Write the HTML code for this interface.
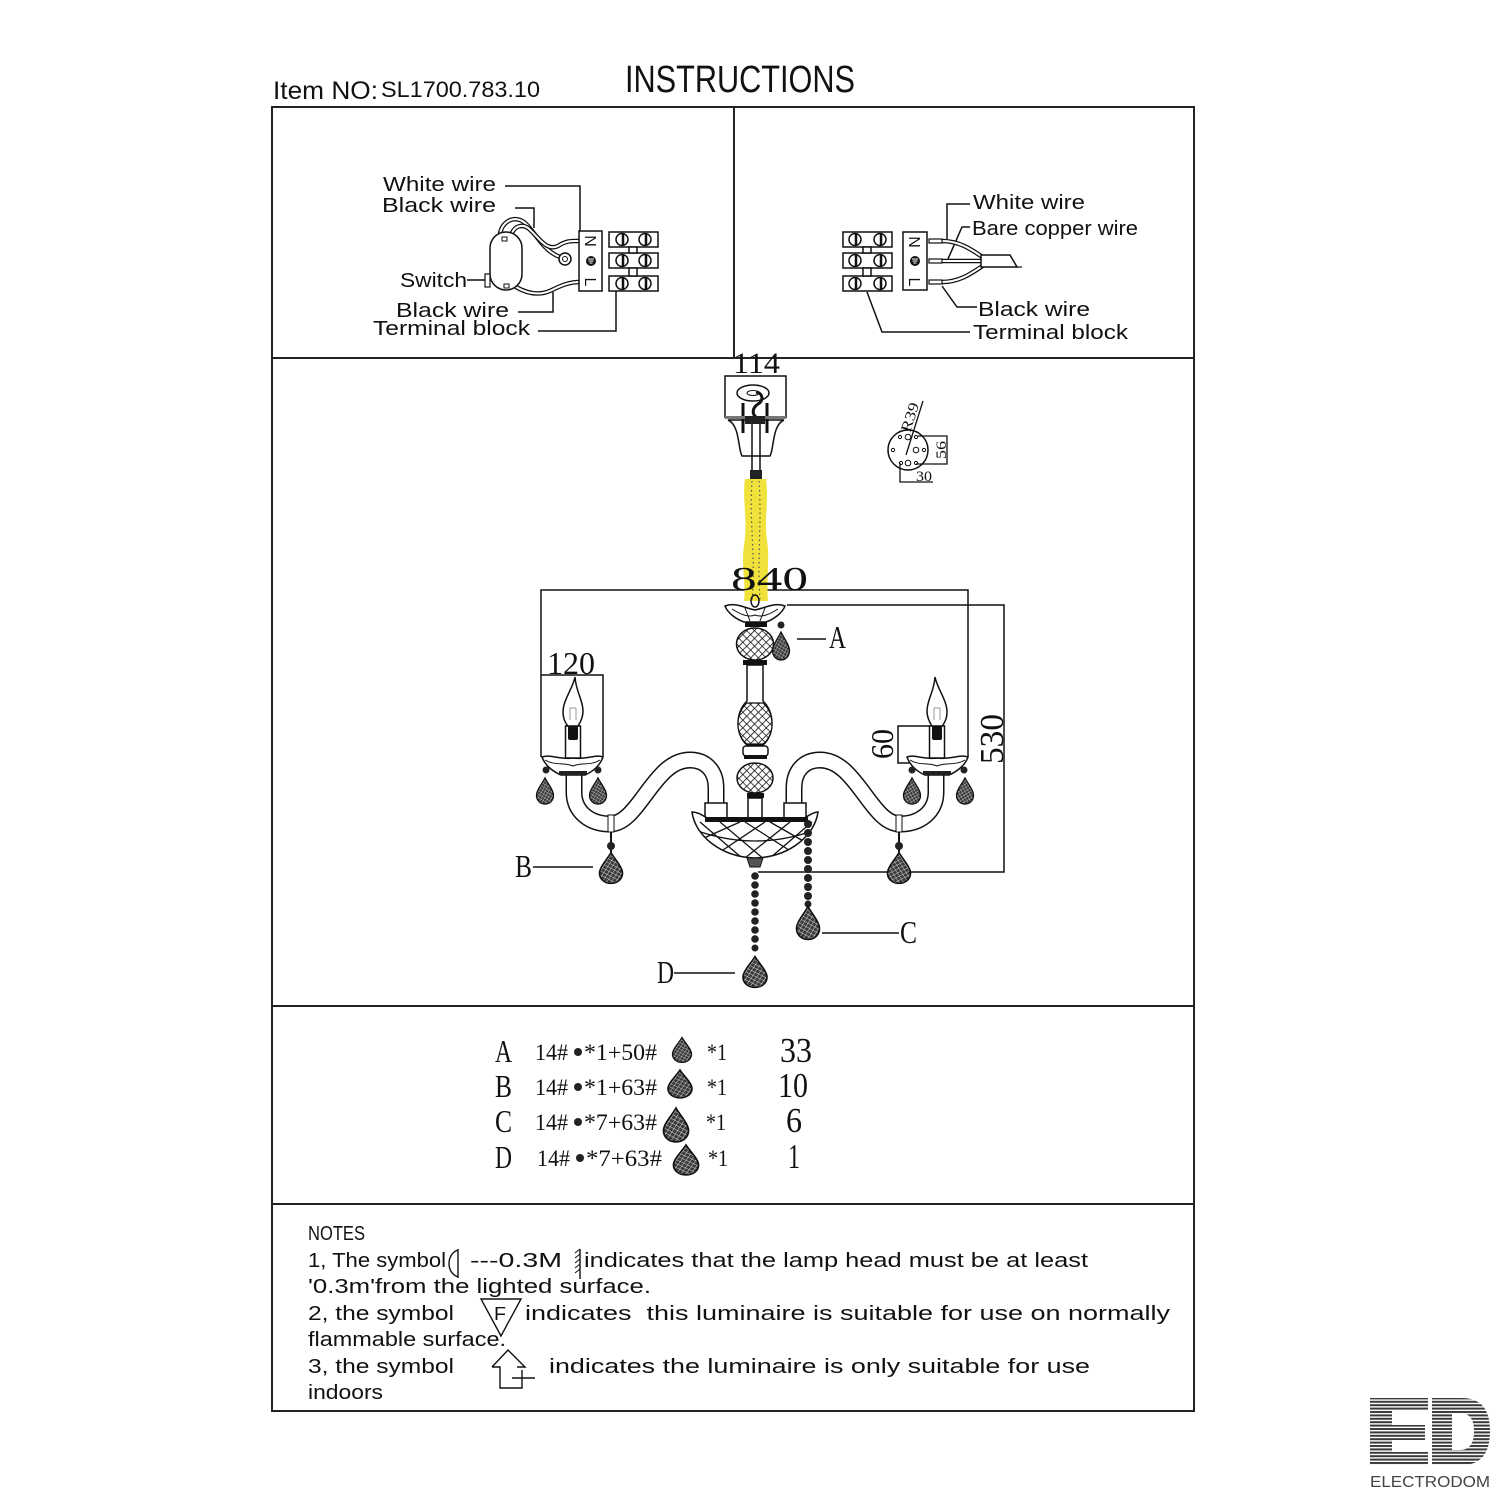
<!DOCTYPE html>
<html><head><meta charset="utf-8"><style>
html,body{margin:0;padding:0;background:#fff;}
svg{display:block;}
text{white-space:pre;}
.s{font-family:"Liberation Sans",sans-serif;fill:#111;}
.r{font-family:"Liberation Serif",serif;fill:#111;}
</style></head><body>
<svg width="1500" height="1500" viewBox="0 0 1500 1500" xmlns="http://www.w3.org/2000/svg" xmlns:xlink="http://www.w3.org/1999/xlink">
<defs>
<pattern id="hatch" width="5.5" height="5.5" patternUnits="userSpaceOnUse" patternTransform="rotate(45)">
<rect width="5.5" height="5.5" fill="#fff"/>
<path d="M0,0H5.5M0,0V5.5" stroke="#111" stroke-width="1.6"/>
</pattern>
<pattern id="dp" width="3.4" height="3.4" patternUnits="userSpaceOnUse" patternTransform="rotate(30)">
<rect width="3.4" height="3.4" fill="#3a3a3a"/><path d="M0,0H3.4M0,0V3.4" stroke="#ddd" stroke-width="0.8"/>
</pattern>
<pattern id="stripes" width="6" height="3.4" patternUnits="userSpaceOnUse"><rect width="6" height="2" fill="#3a3a3a"/></pattern>
<path id="drop" d="M0,-15 C3,-9 10,-1 10,5 C10,11 5.5,15 0,15 C-5.5,15 -10,11 -10,5 C-10,-1 -3,-9 0,-15 Z"/>
<clipPath id="bowlclip"><path d="M692,812 C700,812 705,818 712,820 L800,820 C806,818 812,812 818,812 C815,835 790,857 755,858 C720,857 695,835 692,812 Z"/></clipPath>

<g id="armL">
  <path d="M716,806 L716,788 C716,770 705,760 690,760 C672,760 660,775 648,791 C636,807 625,824 610,824 C590,824 574,812 574,792 L574,772" fill="none" stroke="#111" stroke-width="17"/>
  <path d="M716,806 L716,788 C716,770 705,760 690,760 C672,760 660,775 648,791 C636,807 625,824 610,824 C590,824 574,812 574,792 L574,772" fill="none" stroke="#fff" stroke-width="14"/>
  <rect x="608" y="815" width="6" height="17" fill="#fff" stroke="#111" stroke-width="1"/>
  <line x1="611" y1="832" x2="611" y2="852" stroke="#111" stroke-width="2"/>
  <circle cx="611" cy="846" r="4" fill="#222"/>
  <use xlink:href="#drop" href="#drop" transform="translate(611,868) scale(1.15,1.03)" fill="url(#dp)" stroke="#111" stroke-width="1.4"/>
  <path d="M542,757 C550,754 560,760 573,758 C586,760 596,754 603,757 C600,766 592,772 585,775 L561,775 C554,772 545,766 542,757 Z" fill="#fff" stroke="#111" stroke-width="1.5"/>
  <path d="M545,760 C555,766 565,762 573,766 C581,762 591,766 600,760" fill="none" stroke="#111" stroke-width="1"/>
  <rect x="559" y="771" width="28" height="4" fill="#222"/>
  <rect x="565.5" y="726" width="15" height="32" fill="#fff" stroke="#111" stroke-width="1.5"/>
  <rect x="568" y="726" width="10" height="14" rx="2" fill="#111"/>
  <path d="M575,677 C573,688 563,700 563,712 C563,719 566,724 568,726 L578,726 C580,723 583,718 583,711 C583,700 576,692 575,677 Z" fill="#fff" stroke="#111" stroke-width="1.5"/>
  <path d="M570,708 L570,720 M576,708 L576,720 M570,708 L576,708" fill="none" stroke="#999" stroke-width="1"/>
  <circle cx="546" cy="770" r="3.5" fill="#222"/>
  <circle cx="598" cy="770" r="3.5" fill="#222"/>
  <use xlink:href="#drop" href="#drop" transform="translate(545,791) scale(0.85,0.87)" fill="url(#dp)" stroke="#111" stroke-width="1.5"/>
  <use xlink:href="#drop" href="#drop" transform="translate(598,791) scale(0.85,0.87)" fill="url(#dp)" stroke="#111" stroke-width="1.5"/>
</g>
</defs>

<rect width="1500" height="1500" fill="#fff"/>

<!-- Header -->
<text class="s" x="273" y="99" font-size="25" textLength="105" lengthAdjust="spacingAndGlyphs">Item NO:</text>
<text class="s" x="381" y="97" font-size="22" textLength="159" lengthAdjust="spacingAndGlyphs">SL1700.783.10</text>
<text class="s" x="625" y="92" font-size="38" textLength="230" lengthAdjust="spacingAndGlyphs">INSTRUCTIONS</text>

<!-- Frame -->
<g fill="none" stroke="#222" stroke-width="2">
  <rect x="272" y="107" width="922" height="1304"/>
  <line x1="272" y1="358" x2="1194" y2="358"/>
  <line x1="734" y1="107" x2="734" y2="358"/>
  <line x1="272" y1="1006" x2="1194" y2="1006"/>
  <line x1="272" y1="1204" x2="1194" y2="1204"/>
</g>

<!-- Left wiring -->
<g class="s" font-size="20">
  <text x="383" y="191" textLength="113" lengthAdjust="spacingAndGlyphs">White wire</text>
  <text x="382" y="212" textLength="114" lengthAdjust="spacingAndGlyphs">Black wire</text>
  <text x="400" y="287" textLength="67" lengthAdjust="spacingAndGlyphs">Switch</text>
  <text x="396" y="317" textLength="113" lengthAdjust="spacingAndGlyphs">Black wire</text>
  <text x="373" y="335" textLength="157" lengthAdjust="spacingAndGlyphs">Terminal block</text>
</g>
<g fill="none" stroke="#111" stroke-width="1.5">
  <path d="M505,186 H580 V232"/>
  <path d="M515,208 H534 V228"/>
  <path d="M467,280 H485"/>
  <path d="M518,312 H553 V292"/>
  <path d="M538,331 H616 V291"/>
</g>
<g fill="none" stroke-linecap="round">
  <path d="M500,234 C502,222 512,217 520,220 C532,224 540,250 560,257" stroke="#111" stroke-width="4.5"/>
  <path d="M500,234 C502,222 512,217 520,220 C532,224 540,250 560,257" stroke="#fff" stroke-width="2"/>
  <path d="M512,233 C515,226 522,224 528,228 C538,236 546,252 558,246 C567,240 573,241 580,241" stroke="#111" stroke-width="4.5"/>
  <path d="M512,233 C515,226 522,224 528,228 C538,236 546,252 558,246 C567,240 573,241 580,241" stroke="#fff" stroke-width="2"/>
  <path d="M516,287 C528,294 540,296 552,290 C562,285 570,282 580,282" stroke="#111" stroke-width="4.5"/>
  <path d="M516,287 C528,294 540,296 552,290 C562,285 570,282 580,282" stroke="#fff" stroke-width="2"/>
</g>
<circle cx="565" cy="259" r="6" fill="#fff" stroke="#111" stroke-width="1.5"/>
<circle cx="565" cy="259" r="2.5" fill="none" stroke="#111" stroke-width="1"/>
<rect x="490" y="232" width="32" height="58" rx="16" fill="#fff" stroke="#111" stroke-width="1.5"/>
<rect x="502" y="237" width="5" height="4" fill="none" stroke="#111" stroke-width="1"/>
<rect x="504" y="284" width="5" height="4" fill="none" stroke="#111" stroke-width="1"/>
<rect x="485" y="274" width="5" height="13" fill="#fff" stroke="#111" stroke-width="1.2"/>
<rect x="579" y="231" width="23" height="60" fill="#fff" stroke="#111" stroke-width="1.5"/>
<text class="s" font-size="16" text-anchor="middle" transform="translate(585,241) rotate(90)">N</text>
<circle cx="591" cy="261" r="5" fill="#111"/>
<path d="M588,259 H594 M588.5,261 H593.5 M589.5,263 H592.5" stroke="#fff" stroke-width="1"/>
<text class="s" font-size="16" text-anchor="middle" transform="translate(585,282) rotate(90)">L</text>
<g fill="#fff" stroke="#111" stroke-width="1.5">
  <rect x="609" y="232" width="49" height="15"/>
  <rect x="609" y="253" width="49" height="15"/>
  <rect x="609" y="276" width="49" height="15"/>
  <rect x="629" y="247" width="8" height="6"/>
  <rect x="629" y="268" width="8" height="8"/>
  <circle cx="622" cy="239.5" r="6"/><circle cx="645" cy="239.5" r="6"/>
  <circle cx="622" cy="260.5" r="6"/><circle cx="645" cy="260.5" r="6"/>
  <circle cx="622" cy="283.5" r="6"/><circle cx="645" cy="283.5" r="6"/>
</g>
<g stroke="#111" stroke-width="2.5">
  <path d="M623,234 V245 M646,234 V245 M623,255 V266 M646,255 V266 M623,278 V289 M646,278 V289"/>
</g>

<!-- Right wiring -->
<g class="s" font-size="20">
  <text x="973" y="209" textLength="112" lengthAdjust="spacingAndGlyphs">White wire</text>
  <text x="972" y="235" textLength="166" lengthAdjust="spacingAndGlyphs">Bare copper wire</text>
  <text x="978" y="316" textLength="112" lengthAdjust="spacingAndGlyphs">Black wire</text>
  <text x="973" y="339" textLength="155" lengthAdjust="spacingAndGlyphs">Terminal block</text>
</g>
<g fill="none" stroke="#111" stroke-width="1.5">
  <path d="M970,204 H947 V239"/>
  <path d="M970,227 H962 L948,259"/>
  <path d="M977,307 H957 L942,286"/>
  <path d="M970,332 H882 L867,292"/>
</g>
<g fill="none">
  <path d="M942,241 C960,241 972,250 984,258" stroke="#111" stroke-width="4.5"/>
  <path d="M942,241 C960,241 972,250 984,258" stroke="#fff" stroke-width="2"/>
  <path d="M942,261 L984,261" stroke="#111" stroke-width="4.5"/>
  <path d="M942,261 L984,261" stroke="#fff" stroke-width="2"/>
  <path d="M942,282 C960,282 972,273 984,265" stroke="#111" stroke-width="4.5"/>
  <path d="M942,282 C960,282 972,273 984,265" stroke="#fff" stroke-width="2"/>
</g>
<path d="M981,255 L1010,255 L1017,267 L981,267 Z" fill="#fff" stroke="#111" stroke-width="1.5"/>
<path d="M1017,267 L1022,267" stroke="#111" stroke-width="1.2"/>
<g fill="#fff" stroke="#111" stroke-width="1.2">
  <rect x="929" y="239" width="13" height="4"/>
  <rect x="929" y="259" width="13" height="4"/>
  <rect x="929" y="280" width="13" height="4"/>
</g>
<rect x="903" y="232" width="24" height="58" fill="#fff" stroke="#111" stroke-width="1.5"/>
<text class="s" font-size="16" text-anchor="middle" transform="translate(909,242) rotate(90)">N</text>
<circle cx="915" cy="261" r="5" fill="#111"/>
<path d="M912,259 H918 M912.5,261 H917.5 M913.5,263 H916.5" stroke="#fff" stroke-width="1"/>
<text class="s" font-size="16" text-anchor="middle" transform="translate(909,282) rotate(90)">L</text>
<g fill="#fff" stroke="#111" stroke-width="1.5">
  <rect x="843" y="232" width="49" height="15"/>
  <rect x="843" y="253" width="49" height="15"/>
  <rect x="843" y="276" width="49" height="15"/>
  <rect x="863" y="247" width="8" height="6"/>
  <rect x="863" y="268" width="8" height="8"/>
  <circle cx="855" cy="239.5" r="6"/><circle cx="880" cy="239.5" r="6"/>
  <circle cx="855" cy="260.5" r="6"/><circle cx="880" cy="260.5" r="6"/>
  <circle cx="855" cy="283.5" r="6"/><circle cx="880" cy="283.5" r="6"/>
</g>
<g stroke="#111" stroke-width="2.5">
  <path d="M856,234 V245 M881,234 V245 M856,255 V266 M881,255 V266 M856,278 V289 M881,278 V289"/>
</g>

<!-- ===== Chandelier ===== -->
<g fill="none" stroke="#111" stroke-width="1.5">
  <path d="M725,418 V376 H786 V418"/>
  <path d="M541,757 V590 H968 V757"/>
  <path d="M541,675 H603 V757"/>
  <path d="M787,605 H1004 V872 H758"/>
  <path d="M932,726 H898 V763 H932"/>
  <path d="M797,639 H826"/>
  <path d="M533,867 H593"/>
  <path d="M822,933 H899"/>
  <path d="M674,973 H735"/>
</g>
<text class="r" x="733" y="373" font-size="30" textLength="47" lengthAdjust="spacingAndGlyphs">114</text>
<text class="r" x="547" y="674" font-size="32" textLength="48" lengthAdjust="spacingAndGlyphs">120</text>
<text class="r" font-size="34" text-anchor="middle" textLength="50" lengthAdjust="spacingAndGlyphs" transform="translate(1003,739) rotate(-90)">530</text>
<text class="r" font-size="32" text-anchor="middle" textLength="30" lengthAdjust="spacingAndGlyphs" transform="translate(893,744) rotate(-90)">60</text>
<text class="r" x="829" y="648" font-size="32" textLength="17" lengthAdjust="spacingAndGlyphs">A</text>
<text class="r" x="515" y="877" font-size="32" textLength="17" lengthAdjust="spacingAndGlyphs">B</text>
<text class="r" x="900" y="943" font-size="32" textLength="17" lengthAdjust="spacingAndGlyphs">C</text>
<text class="r" x="657" y="983" font-size="32" textLength="17" lengthAdjust="spacingAndGlyphs">D</text>

<!-- canopy -->
<ellipse cx="753" cy="393" rx="16" ry="8" fill="#fff" stroke="#111" stroke-width="1.5"/>
<ellipse cx="753" cy="393" rx="6" ry="2.5" fill="none" stroke="#111" stroke-width="1"/>
<path d="M756,392 C763,393 764,401 758,404 C752,408 752,414 756,417" fill="none" stroke="#111" stroke-width="3"/>
<path d="M743,403 V432 M767,403 V432" stroke="#111" stroke-width="3"/>
<rect x="725" y="416" width="61" height="3" fill="#777"/>
<path d="M728,420 C740,425 738,450 742,456 L770,456 C774,450 772,425 784,420 Z" fill="#fff" stroke="#111" stroke-width="1.5"/>
<path d="M743,420 V433 M767,420 V433" stroke="#111" stroke-width="3"/>
<rect x="745" y="416" width="20" height="8" fill="#222"/>
<path d="M752,424 V470 M760,424 V470" stroke="#111" stroke-width="1.5"/>
<rect x="750" y="470" width="12" height="9" fill="#222"/>
<path d="M745,479 C742,500 748,520 744,545 C741,565 746,580 744,601 L768,601 C766,580 770,560 767,540 C764,520 769,500 766,479 Z" fill="#f0e23a"/>
<path d="M752,481 C749,520 756,560 752,600" fill="none" stroke="#555" stroke-width="1.2" stroke-dasharray="1.5,3"/>
<path d="M759,481 C762,520 757,560 760,600" fill="none" stroke="#555" stroke-width="1.2" stroke-dasharray="1.5,3"/>
<text class="r" x="731" y="590" font-size="34" textLength="77" lengthAdjust="spacingAndGlyphs">840</text>

<use xlink:href="#armL" href="#armL"/>
<use xlink:href="#armL" href="#armL" transform="matrix(-1,0,0,1,1510,0)"/>

<ellipse cx="755" cy="601" rx="4" ry="6" fill="none" stroke="#111" stroke-width="1.5"/>
<path d="M725,606 C735,602 745,608 755,610 C765,608 775,602 785,606 C782,614 772,620 766,622 L744,622 C738,620 728,614 725,606 Z" fill="#fff" stroke="#111" stroke-width="1.5"/>
<path d="M732,609 C740,614 748,618 755,615 C762,618 770,614 778,609 M745,608 L750,621 M765,608 L760,621" fill="none" stroke="#111" stroke-width="1"/>
<rect x="745" y="622" width="22" height="5" fill="#111"/>
<ellipse cx="755" cy="644" rx="18.5" ry="16" fill="url(#hatch)" stroke="#111" stroke-width="1.5"/>
<rect x="743" y="660" width="24" height="5" fill="#111"/>
<path d="M747,665 L747,701 C735,712 735,735 747,745 L763,745 C775,735 775,712 763,701 L763,665 Z" fill="#fff" stroke="#111" stroke-width="1.5"/>
<path d="M747,703 C735,713 735,735 747,744 L763,744 C775,735 775,713 763,703 Z" fill="url(#hatch)" stroke="#111" stroke-width="1.2"/>
<rect x="743" y="746" width="25" height="10" rx="3" fill="#fff" stroke="#111" stroke-width="1.5"/>
<rect x="744" y="755" width="23" height="4" fill="#111"/>
<ellipse cx="755" cy="778" rx="18" ry="15" fill="url(#hatch)" stroke="#111" stroke-width="1.5"/>
<rect x="747" y="793" width="17" height="5" fill="#111"/>
<rect x="748" y="798" width="14" height="20" fill="#fff" stroke="#111" stroke-width="1.5"/>
<circle cx="781" cy="625" r="3.5" fill="#222"/>
<use xlink:href="#drop" href="#drop" transform="translate(781,646) scale(0.85,0.93)" fill="url(#dp)" stroke="#111" stroke-width="1.5"/>
<rect x="705" y="803" width="22" height="17" fill="#fff" stroke="#111" stroke-width="1.5"/>
<rect x="784" y="803" width="22" height="17" fill="#fff" stroke="#111" stroke-width="1.5"/>
<path d="M692,812 C700,812 705,818 712,820 L800,820 C806,818 812,812 818,812 C815,835 790,857 755,858 C720,857 695,835 692,812 Z" fill="#fff" stroke="#111" stroke-width="1.5"/>
<g clip-path="url(#bowlclip)" fill="none" stroke="#111" stroke-width="1.3">
  <path d="M700,822 L742,858 M720,822 L765,860 M745,822 L792,852 M770,822 L805,842 M812,822 L770,858 M790,822 L745,858 M765,822 L720,852 M740,822 L704,838 M695,830 Q755,852 815,830"/>
</g>
<rect x="705" y="817" width="103" height="5" fill="#111"/>
<path d="M747,858 L763,858 L760,867 L750,867 Z" fill="#555" stroke="#111" stroke-width="1"/>
<g fill="#222">
  <circle cx="808" cy="824" r="4"/><circle cx="808" cy="833" r="4"/><circle cx="808" cy="842" r="4"/><circle cx="808" cy="851" r="4"/><circle cx="808" cy="860" r="4"/><circle cx="808" cy="869" r="4"/><circle cx="808" cy="878" r="4"/><circle cx="808" cy="887" r="4"/><circle cx="808" cy="896" r="4"/><circle cx="808" cy="904" r="3.5"/>
</g>
<use xlink:href="#drop" href="#drop" transform="translate(808,923) scale(1.15,1.1)" fill="url(#dp)" stroke="#111" stroke-width="1.4"/>
<g fill="#222">
  <circle cx="755" cy="876" r="3.8"/><circle cx="755" cy="885" r="3.8"/><circle cx="755" cy="894" r="3.8"/><circle cx="755" cy="903" r="3.8"/><circle cx="755" cy="912" r="3.8"/><circle cx="755" cy="921" r="3.8"/><circle cx="755" cy="930" r="3.8"/><circle cx="755" cy="939" r="3.8"/><circle cx="755" cy="948" r="3.5"/>
</g>
<use xlink:href="#drop" href="#drop" transform="translate(755,972) scale(1.2,1.03)" fill="url(#dp)" stroke="#111" stroke-width="1.4"/>

<!-- small plate -->
<circle cx="908" cy="450" r="20" fill="#fff" stroke="#111" stroke-width="1.5"/>
<g fill="none" stroke="#111" stroke-width="1">
  <circle cx="900" cy="437" r="1.6"/><circle cx="916" cy="437" r="1.6"/><circle cx="893" cy="450" r="1.6"/><circle cx="924" cy="450" r="1.6"/><circle cx="901" cy="463" r="1.6"/><circle cx="916" cy="463" r="1.6"/>
  <circle cx="908" cy="437" r="2.8"/><circle cx="908" cy="463" r="2.8"/><circle cx="916" cy="450" r="2.8"/>
</g>
<g fill="none" stroke="#111" stroke-width="1.3">
  <path d="M906,455 L923,401"/>
  <path d="M918,436 H947 V464 H916"/>
  <path d="M900,463 V482 H933"/>
</g>
<text class="r" font-size="15" textLength="30" lengthAdjust="spacingAndGlyphs" transform="translate(910,433) rotate(-72)">R39</text>
<text class="r" font-size="15" text-anchor="middle" textLength="18" lengthAdjust="spacingAndGlyphs" transform="translate(946,450) rotate(-90)">56</text>
<text class="r" x="916" y="481" font-size="15" textLength="16" lengthAdjust="spacingAndGlyphs">30</text>

<!-- ===== Table ===== -->
<g class="r">
  <text x="495" y="1062" font-size="32" textLength="17" lengthAdjust="spacingAndGlyphs">A</text>
  <text x="495" y="1097" font-size="32" textLength="17" lengthAdjust="spacingAndGlyphs">B</text>
  <text x="495" y="1132" font-size="32" textLength="17" lengthAdjust="spacingAndGlyphs">C</text>
  <text x="495" y="1168" font-size="32" textLength="17" lengthAdjust="spacingAndGlyphs">D</text>

  <text x="535" y="1060" font-size="23" textLength="33" lengthAdjust="spacingAndGlyphs">14#</text>
  <text x="584" y="1060" font-size="23" textLength="73" lengthAdjust="spacingAndGlyphs">*1+50#</text>
  <text x="707" y="1060" font-size="23" textLength="20" lengthAdjust="spacingAndGlyphs">*1</text>
  <text x="780" y="1062" font-size="35" textLength="32" lengthAdjust="spacingAndGlyphs">33</text>

  <text x="535" y="1095" font-size="23" textLength="33" lengthAdjust="spacingAndGlyphs">14#</text>
  <text x="584" y="1095" font-size="23" textLength="73" lengthAdjust="spacingAndGlyphs">*1+63#</text>
  <text x="707" y="1095" font-size="23" textLength="20" lengthAdjust="spacingAndGlyphs">*1</text>
  <text x="778" y="1097" font-size="35" textLength="30" lengthAdjust="spacingAndGlyphs">10</text>

  <text x="535" y="1130" font-size="23" textLength="33" lengthAdjust="spacingAndGlyphs">14#</text>
  <text x="584" y="1130" font-size="23" textLength="73" lengthAdjust="spacingAndGlyphs">*7+63#</text>
  <text x="706" y="1130" font-size="23" textLength="20" lengthAdjust="spacingAndGlyphs">*1</text>
  <text x="786" y="1132" font-size="35" textLength="16" lengthAdjust="spacingAndGlyphs">6</text>

  <text x="537" y="1166" font-size="23" textLength="33" lengthAdjust="spacingAndGlyphs">14#</text>
  <text x="586" y="1166" font-size="23" textLength="76" lengthAdjust="spacingAndGlyphs">*7+63#</text>
  <text x="708" y="1166" font-size="23" textLength="20" lengthAdjust="spacingAndGlyphs">*1</text>
  <text x="788" y="1168" font-size="35" textLength="12" lengthAdjust="spacingAndGlyphs">1</text>
</g>
<g fill="#222">
  <circle cx="578" cy="1052" r="4"/><circle cx="578" cy="1087" r="4"/><circle cx="578" cy="1122" r="4"/><circle cx="580" cy="1158" r="4"/>
</g>
<g fill="url(#dp)" stroke="#111" stroke-width="1.4">
  <use xlink:href="#drop" href="#drop" transform="translate(682,1050) scale(0.95,0.83)"/>
  <use xlink:href="#drop" href="#drop" transform="translate(680,1084) scale(1.2,0.93)"/>
  <use xlink:href="#drop" href="#drop" transform="translate(676,1125) scale(1.25,1.13)"/>
  <use xlink:href="#drop" href="#drop" transform="translate(686,1160) scale(1.25,1.0)"/>
</g>

<!-- ===== Notes ===== -->
<g class="s" font-size="20">
  <text x="308" y="1240" textLength="57" lengthAdjust="spacingAndGlyphs">NOTES</text>
  <text x="308" y="1267" textLength="138" lengthAdjust="spacingAndGlyphs">1, The symbol</text>
  <text x="470" y="1267" textLength="92" lengthAdjust="spacingAndGlyphs">---0.3M</text>
  <text x="584" y="1267" textLength="504" lengthAdjust="spacingAndGlyphs">indicates that the lamp head must be at least</text>
  <text x="308" y="1293" textLength="343" lengthAdjust="spacingAndGlyphs">'0.3m'from the lighted surface.</text>
  <text x="308" y="1320" textLength="146" lengthAdjust="spacingAndGlyphs">2, the symbol</text>
  <text x="525" y="1320" textLength="645" lengthAdjust="spacingAndGlyphs">indicates  this luminaire is suitable for use on normally</text>
  <text x="308" y="1346" textLength="198" lengthAdjust="spacingAndGlyphs">flammable surface.</text>
  <text x="308" y="1373" textLength="146" lengthAdjust="spacingAndGlyphs">3, the symbol</text>
  <text x="549" y="1373" textLength="541" lengthAdjust="spacingAndGlyphs">indicates the luminaire is only suitable for use</text>
  <text x="308" y="1399" textLength="75" lengthAdjust="spacingAndGlyphs">indoors</text>
  <text x="494" y="1320" font-size="18" textLength="12" lengthAdjust="spacingAndGlyphs">F</text>
</g>
<g fill="none" stroke="#111" stroke-width="1.4">
  <path d="M458,1250 C446,1254 446,1273 458,1277"/>
  <path d="M458,1249 V1278"/>
  <path d="M580,1249 V1279"/>
  <path d="M575,1253 L580,1249 M575,1258 L580,1254 M575,1263 L580,1259 M575,1268 L580,1264 M575,1273 L580,1269" stroke-width="1"/>
  <path d="M481,1299 H521 L501,1336 Z"/>
  <path d="M492,1367 L508,1350 L525,1367 H517 M492,1367 H500 V1388 H522 V1370 M512,1378 H535"/>
</g>

<!-- Logo -->
<g fill="url(#stripes)">
  <path d="M1370,1398 H1428 V1411 H1392 V1425 H1425 V1440 H1392 V1452 H1428 V1465 H1370 Z"/>
  <path fill-rule="evenodd" d="M1432,1398 H1462 Q1490,1398 1490,1431 Q1490,1465 1462,1465 H1432 Z M1452,1413 V1450 H1460 Q1474,1450 1474,1431 Q1474,1413 1460,1413 Z"/>
</g>
<text x="1370" y="1487" font-family="Liberation Sans, sans-serif" font-size="16" fill="#444" textLength="120" lengthAdjust="spacingAndGlyphs">ELECTRODOM</text>
</svg>
</body></html>
